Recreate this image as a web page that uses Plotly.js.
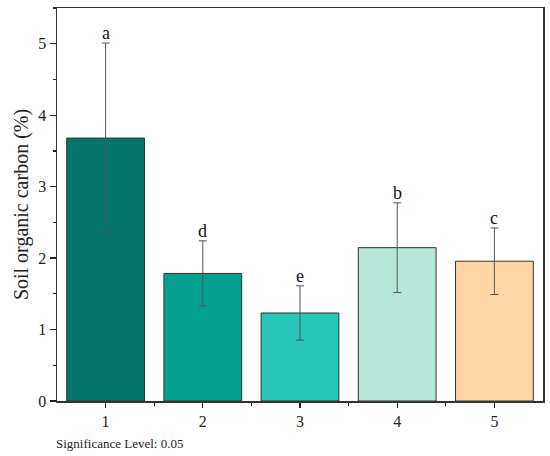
<!DOCTYPE html>
<html>
<head>
<meta charset="utf-8">
<script src="https://cdn.plot.ly/plotly-3.0.1.min.js"></script>
<style>html,body{margin:0;padding:0;background:#fff;}#chart{width:550px;height:456px;}</style>
</head>
<body>
<div id="chart"></div>
<script>
var categories = [1, 2, 3, 4, 5];
var meanValues = [3.68, 1.785, 1.232, 2.146, 1.956];
var errValues = [1.33, 0.456, 0.38, 0.628, 0.466];
var sigLetters = ['a', 'd', 'e', 'b', 'c'];
var barColors = ['#03756B', '#03A092', '#26C6B8', '#B5E8D9', '#FFD5A5'];
var yTickVals = [0, 1, 2, 3, 4, 5];

var serif = 'Liberation Serif, Times New Roman, serif';

var trace = {
  type: 'bar',
  x: categories,
  y: meanValues,
  width: 0.8,
  marker: {color: barColors, line: {color: '#333333', width: 1}},
  error_y: {type: 'data', array: errValues, visible: true, color: '#555555', thickness: 1, width: 4},
  hoverinfo: 'none'
};

var annotations = categories.map(function (c, i) {
  return {
    x: c, y: meanValues[i] + errValues[i], xref: 'x', yref: 'y',
    text: sigLetters[i], showarrow: false, yanchor: 'bottom', yshift: -2,
    font: {family: serif, size: 18, color: '#111'}
  };
});
annotations.push({
  xref: 'paper', yref: 'paper', x: 0, y: 0, xanchor: 'left', yanchor: 'middle',
  yshift: -42, xshift: -3, showarrow: false,
  text: 'Significance Level: 0.05',
  font: {family: serif, size: 13, color: '#222'}
});

var layout = {
  width: 550, height: 456,
  margin: {l: 57, r: 7, t: 8, b: 55},
  paper_bgcolor: '#fff', plot_bgcolor: '#fff',
  showlegend: false,
  xaxis: {
    range: [0.5, 5.5], tickvals: categories, ticktext: categories.map(String),
    ticks: 'outside', ticklen: 5, tickwidth: 1.2, tickcolor: '#222',
    showline: true, linecolor: '#333', linewidth: 1.5, mirror: true,
    showgrid: false, zeroline: false,
    tickfont: {family: serif, size: 16, color: '#222'},
    minor: {tickvals: [1.5, 2.5, 3.5, 4.5], ticks: 'outside', ticklen: 3, tickcolor: '#222', tickwidth: 1.2, showgrid: false}
  },
  yaxis: {
    range: [0, 5.5], tickvals: yTickVals,
    ticks: 'outside', ticklen: 6, tickwidth: 1.2, tickcolor: '#222',
    showline: true, linecolor: '#333', linewidth: 1.5, mirror: true,
    showgrid: false, zeroline: false,
    tickfont: {family: serif, size: 16, color: '#222'},
    title: {text: 'Soil organic carbon (%)', font: {family: serif, size: 20, color: '#222'}, standoff: 4},
    minor: {dtick: 0.5, ticks: 'outside', ticklen: 3, tickcolor: '#222', tickwidth: 1.2, showgrid: false}
  },
  annotations: annotations
};

Plotly.newPlot('chart', [trace], layout, {staticPlot: true, displayModeBar: false});
</script>
</body>
</html>
